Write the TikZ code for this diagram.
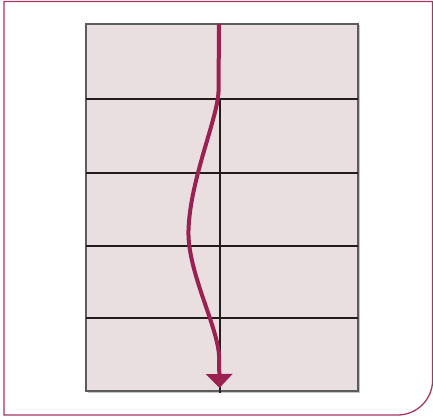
\documentclass[tikz,border=0pt]{standalone}
\usetikzlibrary{arrows.meta}
\definecolor{framec}{RGB}{168,52,98}
\definecolor{cellfill}{RGB}{233,223,224}
\definecolor{gridline}{RGB}{35,28,30}
\definecolor{pathc}{RGB}{155,33,82}
\tikzset{
  gridrule/.style={draw=gridline, line width=2pt},
  midrule/.style={draw=gridline, line width=1.2pt},
  flowpath/.style={draw=pathc, line width=4pt, -{Triangle[width=26pt,length=14pt]}},
}
\begin{document}
\begin{tikzpicture}[x=1pt,y=-1pt]
\useasboundingbox (0,0) rectangle (433,417);
% outer frame
\draw[framec, line width=1.3pt] (4,1.5) -- (432.6,1.5) -- (432.6,380) arc[start angle=0, end angle=90, radius=35] -- (4,415) -- cycle;
% table shadow and body
\fill[gray!45] (87.5,25.5) rectangle (359.5,392.5);
\draw[fill=cellfill, draw=gray!30!black!75, line width=1.4pt] (86,24) rectangle (358,391);
% rows
\foreach \yy in {99,173,246,318} { \draw[gridrule] (86,\yy) -- (358,\yy); }
% middle vertical line
\coordinate (vtop) at (220,99);
\coordinate (vbot) at (220,393);
\draw[midrule] (vtop) -- (vbot);
% flow path
\coordinate (start) at (219,24);
\coordinate (tip) at (219.5,388);
\draw[flowpath] (start) -- (218.5,92) .. controls (217,120) and (190,180) .. (188.5,230)
  .. controls (187,270) and (217,325) .. (219,355) -- (tip);
\end{tikzpicture}
\end{document}
